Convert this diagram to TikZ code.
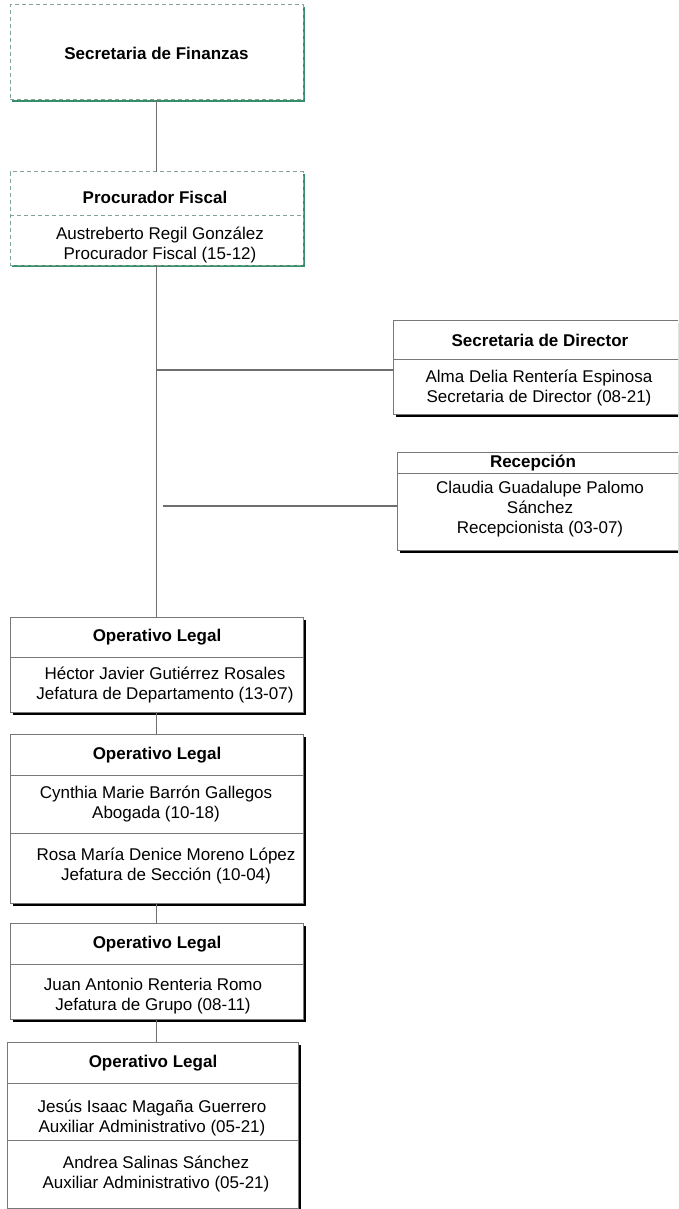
\documentclass[tikz,border=0pt]{standalone}
\usepackage{fontspec}
\setmainfont{Liberation Sans}
\usetikzlibrary{shadows}
\definecolor{boxgray}{RGB}{120,120,120}
\definecolor{linegray}{RGB}{110,110,110}
\definecolor{dashgreen}{RGB}{130,165,148}
\definecolor{shadgreen}{RGB}{55,140,105}

\begin{document}
\begin{tikzpicture}[x=1pt,y=-1pt, inner sep=0pt, outer sep=0pt,
  dbox/.style={rectangle,draw=dashgreen,dash pattern=on 4pt off 3pt,line width=1pt,fill=white,
    drop shadow={shadow xshift=2pt,shadow yshift=-2pt,opacity=1,fill=shadgreen}},
  obox/.style={rectangle,draw=boxgray,line width=1pt,fill=white,
    drop shadow={shadow xshift=3pt,shadow yshift=-3pt,opacity=1,fill=black}},
  sep/.style={draw=boxgray,line width=1pt},
  link/.style={draw=linegray,line width=1.2pt},
  txt/.style={align=center,font=\fontsize{17}{20}\selectfont},
  ttl/.style={align=center,font=\fontsize{17}{20}\selectfont\bfseries}]
\useasboundingbox (0,0) rectangle (678,1209);
\clip (0,0) rectangle (678,1209);
\node (fin) at (156.5,52.5) [dbox,minimum width=293,minimum height=95] {};
\node (proc) at (156.5,218.5) [dbox,minimum width=293,minimum height=93] {};
\node (secdir) at (541.5,367) [obox,minimum width=297,minimum height=94] {};
\node (recep) at (543.5,501) [obox,minimum width=293,minimum height=98] {};
\node (op1) at (156.5,664.5) [obox,minimum width=293,minimum height=95] {};
\node (op2) at (156.5,818.5) [obox,minimum width=293,minimum height=169] {};
\node (op3) at (156.5,971) [obox,minimum width=293,minimum height=96] {};
\node (op4) at (152.5,1125) [obox,minimum width=291,minimum height=166] {};
\draw[sep,dashgreen,dash pattern=on 4pt off 3pt] (proc.west |- 0,215) -- (proc.east |- 0,215);
\draw[sep] (secdir.west |- 0,359) -- (secdir.east |- 0,359);
\draw[sep] (recep.west |- 0,473) -- (recep.east |- 0,473);
\draw[sep] (op1.west |- 0,657) -- (op1.east |- 0,657);
\draw[sep] (op2.west |- 0,775) -- (op2.east |- 0,775);
\draw[sep] (op2.west |- 0,833) -- (op2.east |- 0,833);
\draw[sep] (op3.west |- 0,964) -- (op3.east |- 0,964);
\draw[sep] (op4.west |- 0,1083) -- (op4.east |- 0,1083);
\draw[sep] (op4.west |- 0,1140) -- (op4.east |- 0,1140);
\node (fint) at (156.5,53) [ttl] {Secretaria de Finanzas};
\node (proct) at (155,197) [ttl] {Procurador Fiscal};
\node (procp) at (160,245) [txt] {Austreberto Regil González\\Procurador Fiscal (15-12)};
\node (secdirt) at (540,340) [ttl] {Secretaria de Director};
\node (secdirp) at (539,388) [txt] {Alma Delia Rentería Espinosa\\Secretaria de Director (08-21)};
\node (recept) at (533,463) [ttl] {Recepción};
\node (recepp) at (540,509) [txt] {Claudia Guadalupe Palomo\\Sánchez\\Recepcionista (03-07)};
\node (op1t) at (157,637) [ttl] {Operativo Legal};
\node (op1p) at (165,685) [txt] {Héctor Javier Gutiérrez Rosales\\Jefatura de Departamento (13-07)};
\node (op2t) at (157,755) [ttl] {Operativo Legal};
\node (op2a) at (156,804) [txt] {Cynthia Marie Barrón Gallegos\\Abogada (10-18)};
\node (op2b) at (166,866) [txt] {Rosa María Denice Moreno López\\Jefatura de Sección (10-04)};
\node (op3t) at (157,944) [ttl] {Operativo Legal};
\node (op3p) at (153,996) [txt] {Juan Antonio Renteria Romo\\Jefatura de Grupo (08-11)};
\node (op4t) at (153,1063) [ttl] {Operativo Legal};
\node (op4a) at (152,1118) [txt] {Jesús Isaac Magaña Guerrero\\Auxiliar Administrativo (05-21)};
\node (op4b) at (156,1174) [txt] {Andrea Salinas Sánchez\\Auxiliar Administrativo (05-21)};
\coordinate (b1) at (157,370);
\coordinate (b2) at (163,506);
\draw[link] (fin) -- (proc);
\draw[link] (proc) -- (op1);
\draw[link] (b1) -- (b1 -| secdir.west);
\draw[link] (b2) -- (b2 -| recep.west);
\draw[link] (op1) -- (op2);
\draw[link] (op2) -- (op3);
\draw[link] (op3.south) -- (op3.south |- op4.north);
\end{tikzpicture}
\end{document}
